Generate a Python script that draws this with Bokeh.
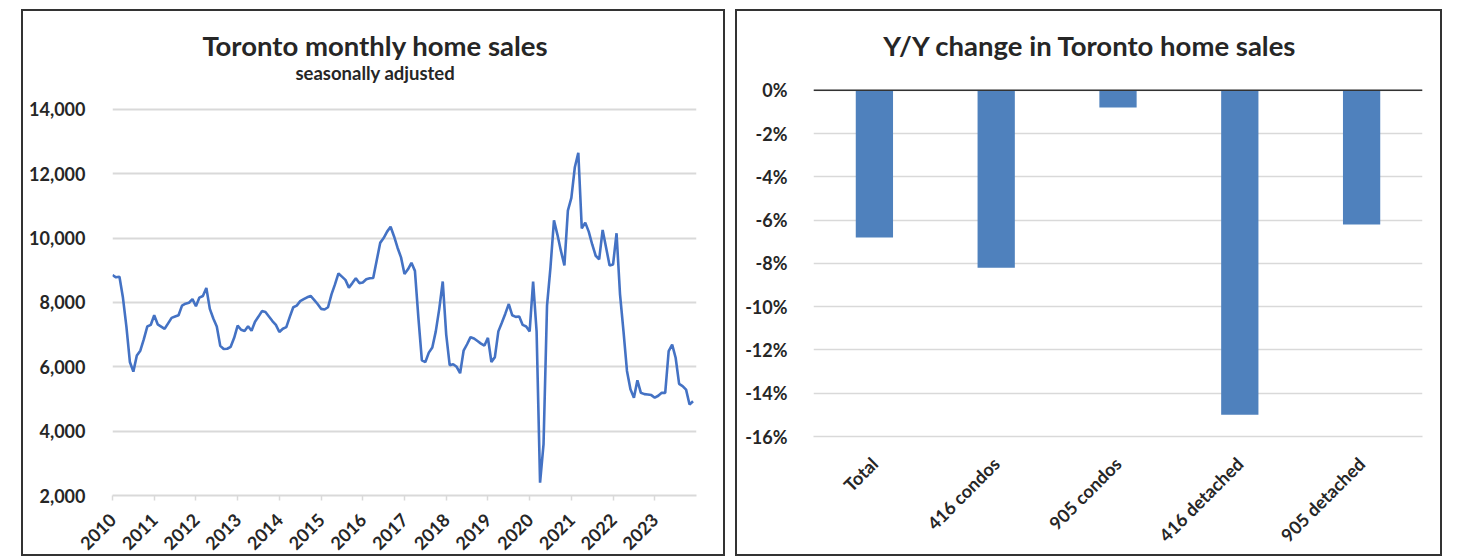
from math import pi
from bokeh.plotting import figure
from bokeh.models import (Range1d, FixedTicker, NumeralTickFormatter, Span,
                          Label, ColumnDataSource)
from bokeh.embed import file_html
from bokeh.resources import INLINE

FONT = "Lato"
TEXT = "#262626"
GRID = "#d9d9d9"

# ---------------- data ----------------
years = list(range(2010, 2024))
sales_2010 = [8850, 8780, 8800, 8150, 7250, 6150, 5850, 6350, 6500, 6850, 7250, 7300]
sales_2011 = [7600, 7320, 7250, 7180, 7350, 7520, 7560, 7600, 7900, 7960, 7990, 8100]
sales_2012 = [7880, 8150, 8200, 8450, 7800, 7500, 7250, 6650, 6550, 6560, 6620, 6900]
sales_2013 = [7280, 7150, 7110, 7260, 7120, 7400, 7560, 7730, 7700, 7560, 7420, 7300]
sales_2014 = [7080, 7180, 7230, 7550, 7850, 7900, 8040, 8100, 8160, 8200, 8080, 7950]
sales_2015 = [7800, 7780, 7850, 8250, 8560, 8900, 8800, 8700, 8460, 8600, 8750, 8600]
sales_2016 = [8620, 8720, 8750, 8760, 9300, 9850, 10000, 10200, 10350, 10050, 9700, 9400]
sales_2017 = [8880, 9030, 9230, 8980, 7520, 6200, 6150, 6440, 6600, 7100, 7800, 8650]
sales_2018 = [7000, 6050, 6080, 6000, 5800, 6500, 6700, 6920, 6880, 6800, 6720, 6660]
sales_2019 = [6900, 6150, 6300, 7100, 7370, 7650, 7950, 7600, 7550, 7560, 7300, 7250]
sales_2020 = [7100, 8650, 7100, 2400, 3600, 7900, 9100, 10550, 10100, 9600, 9150, 10850]
sales_2021 = [11250, 12200, 12650, 10300, 10480, 10200, 9800, 9450, 9340, 10250, 9700, 9150]
sales_2022 = [9180, 10150, 8250, 7100, 5870, 5300, 5040, 5580, 5190, 5150, 5140, 5120]
sales_2023 = [5040, 5100, 5190, 5190, 6490, 6690, 6280, 5470, 5400, 5290, 4830, 4930]
sales_by_year = [sales_2010, sales_2011, sales_2012, sales_2013, sales_2014, sales_2015,
                 sales_2016, sales_2017, sales_2018, sales_2019, sales_2020, sales_2021,
                 sales_2022, sales_2023]
sales_ticks = [2000, 4000, 6000, 8000, 10000, 12000, 14000]

categories = ["Total", "416 condos", "905 condos", "416 detached", "905 detached"]
yoy_change = [-0.068, -0.082, -0.008, -0.150, -0.062]
yoy_ticks = [0.0, -0.02, -0.04, -0.06, -0.08, -0.10, -0.12, -0.14, -0.16]

month_x = []
monthly_sales = []
for yr, vals in zip(years, sales_by_year):
    for m, v in enumerate(vals):
        month_x.append(yr + m / 12.0)
        monthly_sales.append(v)


def panel_style(left):
    return {"position": "absolute", "left": f"{left}px", "top": "9px",
            "border": "2px solid #333333"}


def style_labels(ax, size="18px"):
    ax.major_label_text_font = FONT
    ax.major_label_text_font_style = "bold"
    ax.major_label_text_font_size = size
    ax.major_label_text_color = TEXT


def title_label(x, y, text, size):
    return Label(x=x, y=y, text=text, text_align="center", text_baseline="alphabetic",
                 text_font=FONT, text_font_style="bold", text_font_size=size,
                 text_color=TEXT)


# ---------------- left chart ----------------
# frame spans the whole height above the x axis; the top part holds the titles
p1 = figure(width=704, height=547, output_backend="svg", toolbar_location=None,
            x_range=Range1d(2010, 2024), y_range=Range1d(2000, 17040),
            min_border_left=89, min_border_right=31, min_border_top=0, min_border_bottom=63,
            styles=panel_style(21), margin=0)
p1.outline_line_color = None
p1.line(month_x, monthly_sales, line_color="#4472C4", line_width=2.6)

p1.xgrid.grid_line_color = None
p1.ygrid.grid_line_color = GRID
p1.ygrid.grid_line_width = 2
p1.yaxis.ticker = FixedTicker(ticks=sales_ticks)
p1.ygrid.ticker = FixedTicker(ticks=sales_ticks)
p1.yaxis.formatter = NumeralTickFormatter(format="0,0")
p1.yaxis.axis_line_color = None
p1.yaxis.major_tick_line_color = None
p1.yaxis.minor_tick_line_color = None
p1.yaxis.major_label_standoff = 21
p1.xaxis.ticker = FixedTicker(ticks=years)
p1.xaxis.axis_line_color = GRID
p1.xaxis.axis_line_width = 2
p1.xaxis.major_tick_line_color = GRID
p1.xaxis.major_tick_line_width = 1.5
p1.xaxis.major_tick_in = 0
p1.xaxis.major_tick_out = 5
p1.xaxis.minor_tick_line_color = None
p1.xaxis.major_label_orientation = pi / 4
p1.xaxis.major_label_standoff = 16
style_labels(p1.xaxis, "18px")
style_labels(p1.yaxis)

p1.add_layout(title_label(2016.30, 15975, "Toronto monthly home sales", "27.5px"))
p1.add_layout(title_label(2016.30, 15120, "seasonally adjusted", "18.5px"))

# ---------------- right chart ----------------
src = ColumnDataSource(dict(cat=categories, val=yoy_change))
p2 = figure(width=707, height=547, output_backend="svg", toolbar_location=None,
            x_range=categories, y_range=Range1d(-0.16, 0.0364),
            min_border_left=76, min_border_right=22, min_border_top=0, min_border_bottom=122,
            styles=panel_style(735), margin=0)
p2.outline_line_color = None
p2.vbar(x="cat", top=0, bottom="val", width=0.306, source=src,
        fill_color="#4F81BD", line_color=None)
p2.xgrid.grid_line_color = None
p2.ygrid.grid_line_color = GRID
p2.ygrid.grid_line_width = 1.5
p2.yaxis.ticker = FixedTicker(ticks=yoy_ticks)
p2.ygrid.ticker = FixedTicker(ticks=yoy_ticks)
p2.yaxis.formatter = NumeralTickFormatter(format="0%")
p2.yaxis.axis_line_color = None
p2.yaxis.major_tick_line_color = None
p2.yaxis.minor_tick_line_color = None
p2.yaxis.major_label_standoff = 20
p2.xaxis.axis_line_color = GRID
p2.xaxis.axis_line_width = 1.5
p2.xaxis.major_tick_line_color = None
p2.xaxis.major_label_orientation = pi / 4
p2.xaxis.major_label_standoff = 18
style_labels(p2.xaxis)
style_labels(p2.yaxis)

p2.add_layout(Span(location=0, dimension="width", line_color="#333333", line_width=1.6))
p2.add_layout(title_label(2.273, 0.0205, "Y/Y change in Toronto home sales", "27.5px"))

open("out.html", "w").write(file_html([p1, p2], INLINE))
